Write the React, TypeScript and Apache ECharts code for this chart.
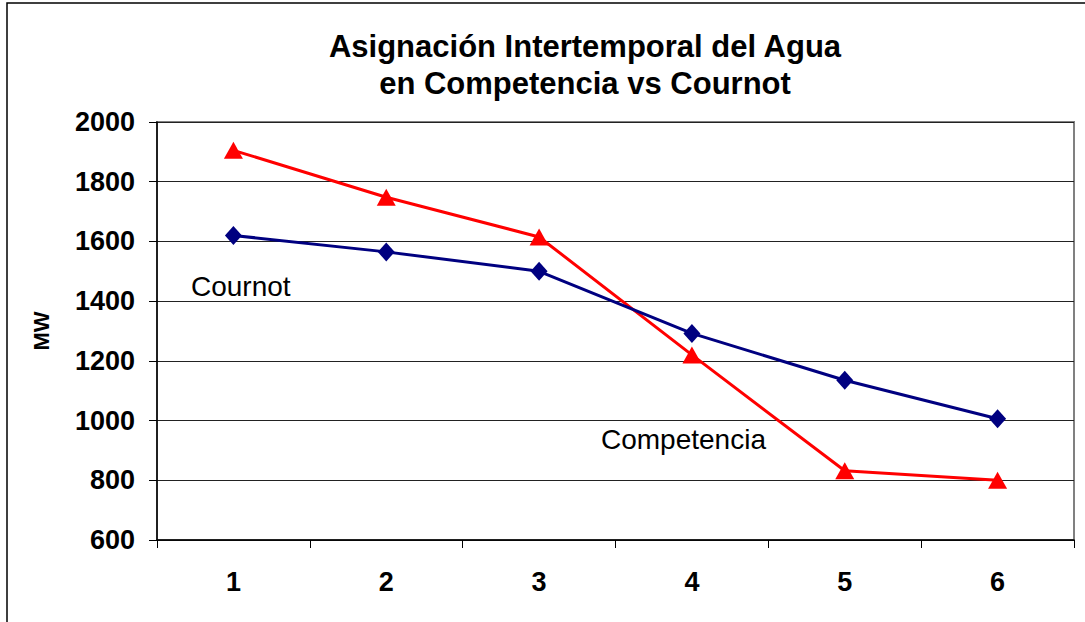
import React, { useEffect, useRef } from "react";
import * as echarts from "echarts";

const categories = ["1", "2", "3", "4", "5", "6"];
const competencia = [1905, 1748, 1615, 1220, 832, 800];
const cournot = [1620, 1565, 1500, 1292, 1135, 1006];
const titleLines = ["Asignación Intertemporal del Agua", "en Competencia vs Cournot"];
const yAxisName = "MW";
const FONT = "'Liberation Sans', Arial, Helvetica, sans-serif";

export default function App() {
  const ref = useRef<HTMLDivElement>(null);
  useEffect(() => {
    if (!ref.current) return;
    const chart = echarts.init(ref.current, null, { renderer: "svg" });
    chart.setOption({
      animation: false,
      backgroundColor: "#ffffff",
      title: {
        text: titleLines.join("\n"),
        left: 580,
        top: 23,
        textAlign: "center",
        textStyle: { fontFamily: FONT, fontSize: 31, fontWeight: "bold", color: "#000", lineHeight: 37 },
      },
      grid: { left: 157, top: 122, right: 11, bottom: 82, show: true, borderColor: "#808080", borderWidth: 2, backgroundColor: "#fff" },
      xAxis: {
        type: "category",
        data: categories,
        boundaryGap: true,
        axisLine: { lineStyle: { color: "#000", width: 1.5 } },
        axisTick: { show: true, length: 8, inside: false, lineStyle: { color: "#000" } },
        axisLabel: { fontFamily: FONT, fontSize: 27, fontWeight: "bold", color: "#000", margin: 28 },
        splitLine: { show: false },
      },
      yAxis: {
        type: "value",
        min: 600,
        max: 2000,
        interval: 200,
        name: yAxisName,
        nameLocation: "middle",
        nameRotate: 90,
        nameGap: 105,
        nameTextStyle: { fontFamily: FONT, fontSize: 22, fontWeight: "bold", color: "#000" },
        axisLine: { show: true, lineStyle: { color: "#000", width: 1.5 } },
        axisTick: { show: true, length: 8, inside: false, lineStyle: { color: "#000" } },
        axisLabel: {
          fontFamily: FONT,
          fontSize: 27,
          fontWeight: "bold",
          color: "#000",
          margin: 22,
          formatter: (v: number) => String(v),
        },
        splitLine: { show: true, lineStyle: { color: "#222", width: 1 } },
      },
      series: [
        {
          name: "Competencia",
          type: "line",
          data: competencia,
          symbol: "triangle",
          symbolSize: [19, 17],
          lineStyle: { color: "#ff0000", width: 3 },
          itemStyle: { color: "#ff0000" },
          z: 3,
        },
        {
          name: "Cournot",
          type: "line",
          data: cournot,
          symbol: "diamond",
          symbolSize: [17, 19],
          lineStyle: { color: "#000080", width: 3 },
          itemStyle: { color: "#000080" },
          z: 4,
        },
      ],
      graphic: [
        {
          type: "rect",
          shape: { x: 7, y: 3, width: 1200, height: 800 },
          style: { fill: "none", stroke: "#000", lineWidth: 1.5 },
          z: 100,
        },
        {
          type: "text",
          x: 191,
          y: 286,
          style: { text: "Cournot", font: `28px ${FONT}`, fill: "#000", textVerticalAlign: "middle" },
          z: 100,
        },
        {
          type: "text",
          x: 601,
          y: 439,
          style: { text: "Competencia", font: `28px ${FONT}`, fill: "#000", textVerticalAlign: "middle" },
          z: 100,
        },
      ],
    });
    return () => chart.dispose();
  }, []);
  return <div ref={ref} style={{ position: "fixed", left: 0, top: 0, width: 1085, height: 622 }} />;
}
